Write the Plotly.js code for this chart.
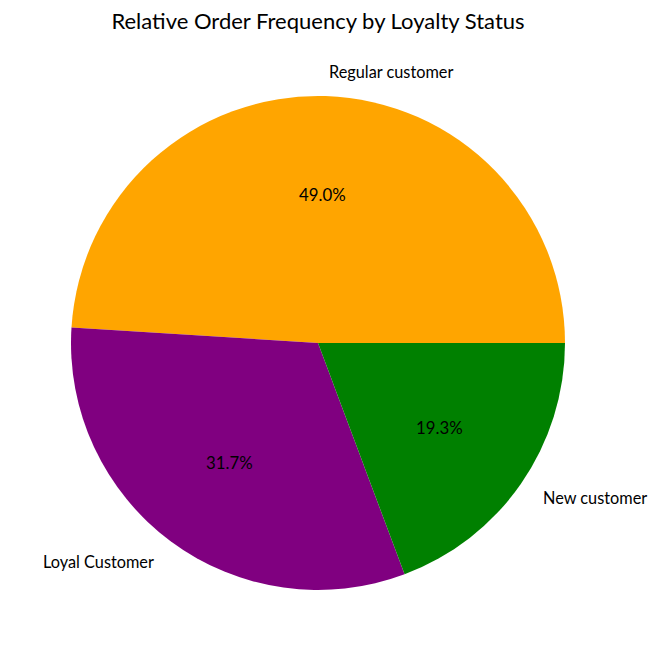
<!DOCTYPE html>
<html>
<head>
<meta charset="utf-8">
<script src="https://cdn.plot.ly/plotly-3.0.1.min.js"></script>
<style>html,body{margin:0;padding:0;background:#fff;}#chart{width:655px;height:661px;}</style>
</head>
<body>
<div id="chart"></div>
<script>
const categories = ["Regular customer", "Loyal Customer", "New customer"];
const shares = [49.0, 31.7, 19.3];
const colors = ["#FFA500", "#800080", "#008000"];

const W = 655, H = 661;
const cxPx = 318, cyPx = 343, rPx = 247;
const domX = [(cxPx - rPx) / W, (cxPx + rPx) / W];
const domY = [(H - cyPx - rPx) / H, (H - cyPx + rPx) / H];
const FONT = "Lato, 'Open Sans', sans-serif";

// annotations computed from the data (start at 3 o'clock, counterclockwise)
const total = shares.reduce((a, b) => a + b, 0);
const annotations = [];
let cum = 0;
shares.forEach((v, i) => {
  const mid = (cum + v / 2) / total * 2 * Math.PI;
  cum += v;
  const cx = (domX[0] + domX[1]) / 2, cy = (domY[0] + domY[1]) / 2;
  const rx = rPx / W, ry = rPx / H;
  const c = Math.cos(mid), s = Math.sin(mid);
  annotations.push({
    xref: "paper", yref: "paper", x: cx + 1.1 * rx * c, y: cy + 1.1 * ry * s,
    xanchor: c >= 0 ? "left" : "right", yanchor: "middle", showarrow: false,
    text: categories[i], font: {family: FONT, size: 16.3, color: "#000"}
  });
  annotations.push({
    xref: "paper", yref: "paper", x: cx + 0.6 * rx * c, y: cy + 0.6 * ry * s,
    xanchor: "center", yanchor: "middle", showarrow: false,
    text: (v / total * 100).toFixed(1) + "%", font: {family: FONT, size: 16.8, color: "#000"}
  });
});

// Plotly (counterclockwise) ends the first slice at the rotation angle (clockwise from 12 o'clock)
const rot = 90 - 360 * shares[0] / total;

const trace = {
  type: "pie",
  labels: categories,
  values: shares,
  sort: false,
  direction: "counterclockwise",
  rotation: rot,
  marker: {colors: colors, line: {width: 0}},
  textinfo: "none",
  hoverinfo: "none",
  showlegend: false,
  domain: {x: domX, y: domY}
};

const layout = {
  width: W, height: H,
  margin: {l: 0, r: 0, t: 0, b: 0},
  paper_bgcolor: "#fff",
  title: {text: "Relative Order Frequency by Loyalty Status", x: cxPx / W, xanchor: "center",
          y: 1 - 21 / H, yanchor: "middle", font: {family: FONT, size: 22, color: "#000"}},
  annotations: annotations
};

Plotly.newPlot("chart", [trace], layout, {displayModeBar: false, staticPlot: true});
</script>
</body>
</html>
